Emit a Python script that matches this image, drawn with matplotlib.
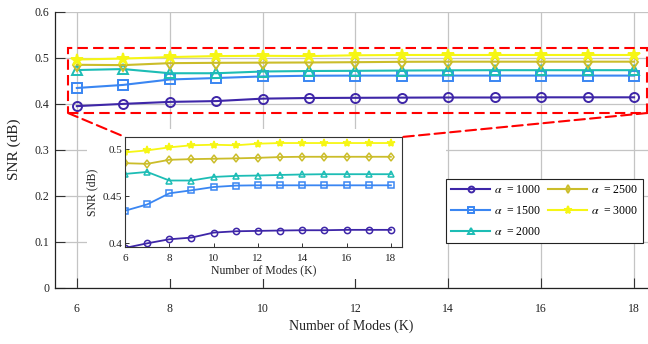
import numpy as np
import matplotlib
matplotlib.use("Agg")
import matplotlib.pyplot as plt
from matplotlib.patches import Rectangle, ConnectionPatch

plt.rcParams["font.family"] = ["Liberation Serif", "DejaVu Serif"]
plt.rcParams["mathtext.fontset"] = "stix"

# Number of modes and SNR for each alpha
modes = [6, 7, 8, 9, 10, 11, 12, 13, 14, 15, 16, 17, 18]
alphas = [1000, 1500, 2000, 2500, 3000]
snr_1000 = [0.3950, 0.3999, 0.4042, 0.4060, 0.4113, 0.4127, 0.4131, 0.4135, 0.4138, 0.4138, 0.4142, 0.4142, 0.4142]
snr_1500 = [0.4345, 0.4412, 0.4530, 0.4562, 0.4597, 0.4612, 0.4615, 0.4615, 0.4615, 0.4615, 0.4615, 0.4615, 0.4615]
snr_2000 = [0.4736, 0.4757, 0.4666, 0.4666, 0.4704, 0.4715, 0.4719, 0.4725, 0.4730, 0.4733, 0.4733, 0.4733, 0.4733]
snr_2500 = [0.4850, 0.4843, 0.4886, 0.4893, 0.4897, 0.4901, 0.4907, 0.4915, 0.4918, 0.4918, 0.4918, 0.4918, 0.4918]
snr_3000 = [0.4965, 0.4986, 0.5018, 0.5040, 0.5046, 0.5040, 0.5057, 0.5064, 0.5064, 0.5064, 0.5064, 0.5064, 0.5064]
series = [snr_1000, snr_1500, snr_2000, snr_2500, snr_3000]

colors = ["#3e26a8", "#3a86f2", "#1dbdb5", "#cbbd2a", "#f6f614"]
markers = ["o", "s", "^", "d", "*"]

W, H = 648, 344
fig = plt.figure(figsize=(W / 100, H / 100), dpi=100)

# main axes
ax = fig.add_axes([55 / W, 1 - 287.5 / H, (W - 55) / W, 275.5 / H])
for vals, a, c, m in zip(series, alphas, colors, markers):
    filled = m == "*"
    ax.plot(modes, vals, color=c, lw=1.5, marker=m,
            ms=9 if filled else 6.5, mfc=c if filled else "none",
            mec=c, mew=1.4, label=r"$\alpha$  = %d" % a, zorder=3)

ax.set_xlim(5.53, 18.3)
ax.set_ylim(0, 0.6)
ax.set_xticks(range(6, 19, 2))
yt = np.round(np.arange(0, 0.61, 0.1), 1)
ax.set_yticks(yt)
ax.set_yticklabels(["0" if v == 0 else f"{v:g}" for v in yt])
ax.grid(True, color="#c4c4c4", lw=0.9)
ax.set_axisbelow(True)
for s in ["top", "right"]:
    ax.spines[s].set_visible(False)
for s in ["left", "bottom"]:
    ax.spines[s].set_color("#222222")
    ax.spines[s].set_linewidth(0.9)
ax.tick_params(axis="both", direction="in", length=7, width=0.8,
               color="#333333", labelsize=8.5, labelcolor="#222222")
ax.tick_params(axis="x", pad=11)
ax.tick_params(axis="y", pad=4)
ax.set_xlabel("Number of Modes (K)", fontsize=10, labelpad=3, color="#222222")
ax.set_ylabel("SNR (dB)", fontsize=11, labelpad=10, color="#222222")

# zoom box around the curves
x0, x1, y0, y1 = 5.81, 18.28, 0.380, 0.5224
ax.add_patch(Rectangle((x0, y0), x1 - x0, y1 - y0, fill=False, ec="red",
                       ls=(0, (5, 2.5)), lw=1.5, clip_on=False, zorder=4))

# white backdrop behind the inset
fig.add_artist(Rectangle((87 / W, 1 - 279 / H), (446 - 87) / W, (279 - 129) / H,
                         transform=fig.transFigure, fc="white", ec="none", zorder=1))

# inset axes
ax2 = fig.add_axes([125 / W, 1 - 247 / H, 277 / W, 110 / H])
ax2.set_zorder(2)
for vals, c, m in zip(series, colors, markers):
    filled = m == "*"
    ax2.plot(modes, vals, color=c, lw=1.3, marker=m,
             ms=6 if filled else 4.5, mfc=c if filled else "none",
             mec=c, mew=1.1)
ax2.set_xlim(6, 18.5)
ax2.set_ylim(0.396, 0.5128)
ax2.set_xticks(range(6, 19, 2))
ax2.set_yticks([0.4, 0.45, 0.5])
ax2.set_yticklabels(["0.4", "0.45", "0.5"])
for s in ax2.spines.values():
    s.set_color("#333333")
    s.set_linewidth(0.8)
ax2.tick_params(axis="both", direction="in", length=3, width=0.7,
                color="#333333", labelsize=8, labelcolor="#222222")
ax2.tick_params(axis="x", pad=5)
ax2.tick_params(axis="y", pad=2)
ax2.set_xlabel("Number of Modes (K)", fontsize=8.5, labelpad=1, color="#222222")
ax2.set_ylabel("SNR (dB)", fontsize=8.5, labelpad=3, color="#222222")

# connector lines from the zoom box to the inset
for xa, xb in [(x0, 0), (x1, 1)]:
    con = ConnectionPatch(xyA=(xa, y0), coordsA=ax.transData,
                          xyB=(xb, 1), coordsB=ax2.transAxes,
                          color="red", ls=(0, (5, 2.5)), lw=1.5, zorder=3)
    fig.add_artist(con)

# legend
handles, labels = ax.get_legend_handles_labels()
leg = fig.legend(handles, labels, ncol=2, loc="lower left",
                 bbox_to_anchor=(446 / W, 1 - 243 / H, (643 - 446) / W, 66 / H),
                 mode="expand", borderaxespad=0, fontsize=8.5, markerscale=0.65,
                 handlelength=3.3, handletextpad=0.3, columnspacing=0.4,
                 labelspacing=0.75, borderpad=0.45, fancybox=False,
                 framealpha=1, edgecolor="#222222")
leg.get_frame().set_linewidth(0.8)
leg.set_zorder(5)

fig.savefig("out.png", dpi=100)
